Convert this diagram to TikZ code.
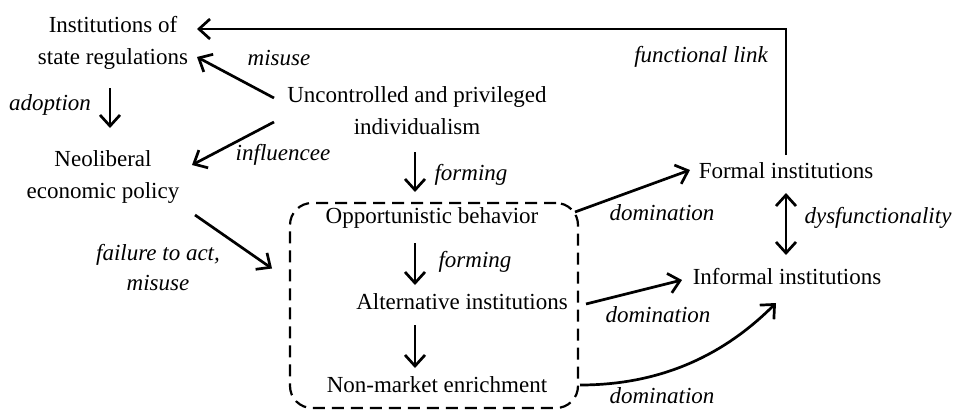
\documentclass[tikz,border=0pt]{standalone}
\usepackage{fontspec}
\setmainfont{Liberation Serif}
\usetikzlibrary{arrows.meta}
\begin{document}
\begin{tikzpicture}[x=1pt,y=-1pt,
  txt/.style={inner sep=0pt, align=center, font=\fontsize{23}{32}\selectfont},
  lbl/.style={inner sep=0pt, align=center, font=\fontsize{23}{30}\selectfont\itshape},
  tip/.style={Straight Barb[length=11pt,width=20pt,line width=2.7pt]},
  arr/.style={line width=2.7pt, -{Straight Barb[length=11pt,width=20pt,line width=2.7pt]}},
  darr/.style={line width=2.7pt, {Straight Barb[length=11pt,width=20pt,line width=2.7pt]}-{Straight Barb[length=11pt,width=20pt,line width=2.7pt]}},
  groupbox/.style={draw, line width=2.2pt, dash pattern=on 12pt off 7pt, rounded corners=22pt,
    minimum width=288pt, minimum height=205pt, inner sep=0pt}]
\useasboundingbox (0,0) rectangle (954,410);

% main blocks
\node[txt] (isr) at (113,43) {Institutions of\\state regulations};
\node[txt] (neo) at (103,177) {Neoliberal\\economic policy};
\node[txt] (unc) at (417,111) {Uncontrolled and privileged\\individualism};
\node[groupbox] (grp) at (434,305.5) {};
\node[txt] (opp) at (432,218) {Opportunistic behavior};
\node[txt] (alt) at (462,302) {Alternative institutions};
\node[txt] (nme) at (437,385) {Non-market enrichment};
\node[txt] (formal) at (786,171) {Formal institutions};
\node[txt] (informal) at (787,277) {Informal institutions};

% relation labels
\node[lbl] (lfun) at (701,57) {functional link};
\node[lbl] (ladopt) at (50,105) {adoption};
\node[lbl] (lmis) at (279,58) {misuse};
\node[lbl] (linf) at (283,155) {influencee};
\node[lbl] (lform1) at (471,175) {forming};
\node[lbl] (lform2) at (475,262) {forming};
\node[lbl] (lfail) at (158,268) {failure to act,\\misuse};
\node[lbl] (ldom1) at (662,213) {domination};
\node[lbl] (ldom2) at (658,315) {domination};
\node[lbl] (ldom3) at (662,396) {domination};
\node[lbl] (ldys) at (878,218) {dysfunctionality};

% connectors
\draw[arr] ([shift={(0,-16)}]formal.center) |- ([shift={(84,-14)}]isr.center);
\draw[arr] ([shift={(-3,45)}]isr.center) -- ([shift={(7,-49)}]neo.center);
\draw[arr] ([shift={(-143,-13)}]unc.center) -- ([shift={(84,14)}]isr.center);
\draw[arr] ([shift={(-143,11)}]unc.center) -- ([shift={(89,-12)}]neo.center);
\draw[arr] ([shift={(-2,41)}]unc.center) -- ([shift={(-17,-26)}]opp.center);
\draw[arr] ([shift={(92,38)}]neo.center) -- ([shift={(-162,-37)}]grp.center);
\draw[arr] ([shift={(-17,25)}]opp.center) -- ([shift={(-47,-17)}]alt.center);
\draw[arr] ([shift={(-47,23)}]alt.center) -- ([shift={(-22,-17)}]nme.center);
\draw[arr] ([shift={(143,-6)}]opp.center) -- ([shift={(-96,-1)}]formal.center);
\draw[arr] ([shift={(124,2)}]alt.center) -- ([shift={(-105,3)}]informal.center);
\draw[arr] ([shift={(143,0)}]nme.center) .. controls +(90,0) and +(-45,45) .. ([shift={(-11,26)}]informal.center);
\draw[darr] ([shift={(0,22)}]formal.center) -- ([shift={(-1,-22)}]informal.center);
\end{tikzpicture}
\end{document}
